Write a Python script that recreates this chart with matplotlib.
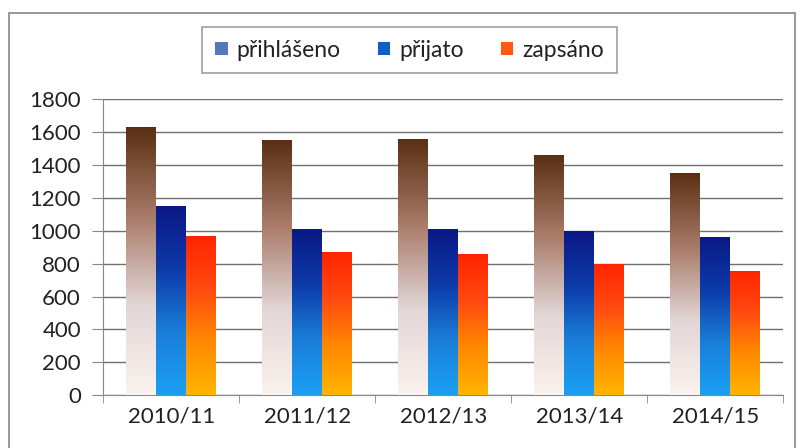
import matplotlib
matplotlib.use("Agg")
import matplotlib.pyplot as plt
import numpy as np
from matplotlib.colors import LinearSegmentedColormap
from matplotlib.patches import Rectangle, Patch

plt.rcParams['font.family'] = ['Lato', 'DejaVu Sans']

# data
years = ['2010/11', '2011/12', '2012/13', '2013/14', '2014/15']
prihlaseno = [1635, 1556, 1560, 1464, 1355]
prijato = [1153, 1012, 1012, 1000, 964]
zapsano = [970, 872, 858, 799, 757]
series_names = ['přihlášeno', 'přijato', 'zapsáno']

# colormaps: index 0 = bottom of bar, 1 = top
cmaps = [
    LinearSegmentedColormap.from_list('brn', ['#fbf3ee', '#e2d6d6', '#a87a68', '#5a2e12']),
    LinearSegmentedColormap.from_list('blu', ['#1aa0f5', '#1a7ed8', '#0c3aa8', '#0a1884']),
    LinearSegmentedColormap.from_list('org', ['#ffb400', '#ff8a00', '#ff4a10', '#ff2400']),
]
legend_cols = ['#5577c0', '#0f5fc8', '#ff5a10']

fig = plt.figure(figsize=(8, 4.48), dpi=100)
ax = fig.add_axes([0.129, 0.118, 0.85, 0.66])

x = np.arange(len(years))
w = 0.22
grad = np.linspace(0, 1, 256).reshape(-1, 1)
for i, vals in enumerate([prihlaseno, prijato, zapsano]):
    for xi, v in zip(x, vals):
        left = xi + (i - 1) * w - w / 2
        rect = Rectangle((left, 0), w, v, facecolor='none', edgecolor='none')
        ax.add_patch(rect)
        im = ax.imshow(grad, cmap=cmaps[i], origin='lower', aspect='auto',
                       extent=[left, left + w, 0, v], zorder=3)
        im.set_clip_path(rect)

ax.set_xlim(-0.5, len(years) - 0.5)
ax.set_ylim(0, 1800)
ax.set_yticks(np.arange(0, 1801, 200))
ax.set_xticks(x)
ax.set_xticklabels(years)
ax.set_xticks(np.arange(-0.5, len(years)), minor=True)
ax.tick_params(axis='x', which='major', length=0, labelsize=16, pad=8, colors='#222222')
ax.tick_params(axis='x', which='minor', length=6, direction='out', color='#888888')
ax.tick_params(axis='y', length=8, direction='out', color='#888888', labelsize=16, pad=8,
               labelcolor='#222222')
ax.yaxis.grid(True, color='#707070', linewidth=1)
ax.set_axisbelow(True)
for s in ['top', 'right']:
    ax.spines[s].set_visible(False)
for s in ['left', 'bottom']:
    ax.spines[s].set_color('#888888')

handles = [Patch(facecolor=c, edgecolor='none') for c in legend_cols]
leg = fig.legend(handles, series_names, loc='center', bbox_to_anchor=(0.512, 0.888),
                 ncol=3, fontsize=16.5, frameon=True, fancybox=False, handlelength=0.55,
                 handleheight=0.55, handletextpad=0.4, columnspacing=1.6, borderpad=0.55)
leg.get_frame().set_edgecolor('#888888')
leg.get_frame().set_linewidth(1.2)
for t in leg.get_texts():
    t.set_color('#222222')

# outer frame of the chart
fig.patches.append(Rectangle((0.011, -0.02), 0.983, 0.99, transform=fig.transFigure,
                             fill=False, edgecolor='#888888', linewidth=1.2))

fig.savefig('out.png', dpi=100)
